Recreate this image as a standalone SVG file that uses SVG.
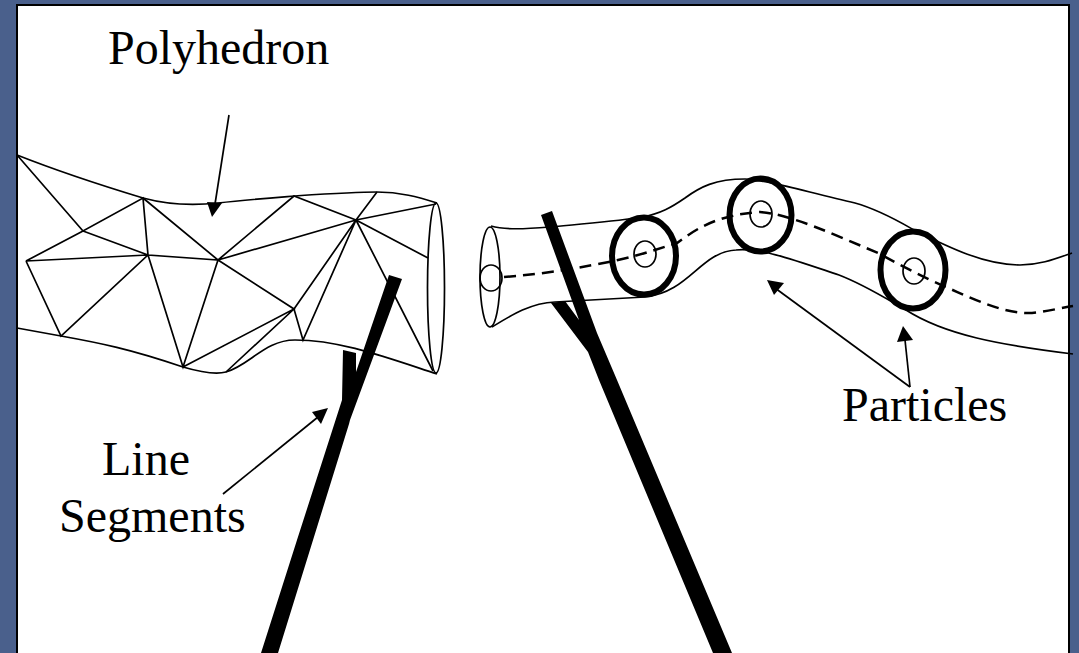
<svg xmlns="http://www.w3.org/2000/svg" width="1079" height="653" viewBox="0 0 1079 653">
<style>
.thin{fill:none;stroke:#000;stroke-width:1.7}
.mesh{fill:none;stroke:#000;stroke-width:1.7}
.ring{fill:none;stroke:#000;stroke-width:6}
.lbl{font-family:"Liberation Serif","Times New Roman",serif;font-size:48px;fill:#000}
</style>
<rect width="1079" height="653" fill="#4a608c"/>
<rect x="17" y="5" width="1052" height="660" fill="#fff" stroke="#000" stroke-width="2"/>
<g id="polyhedron">
<path class="thin" d="M17 155C60 172 110 188 143 198C165 204 190 206 218 203C245 200 270 198 294 196C325 194 355 192 377 192C400 192 418 197 437 203"/>
<path class="thin" d="M17 328L61 336C100 343 130 349 183 367C200 372 215 375 226 372C250 365 265 340 295 340C340 340 385 357 437 374"/>
<ellipse class="thin" cx="436" cy="288" rx="8.5" ry="85"/>
<path class="mesh" d="M17 155L83 231L143 198L148 255L218 260L143 198M83 231L148 255L26 261L83 231M26 261L61 336L148 255L183 367L218 260L294 196L356 220L377 192M218 260L356 220L436 204M218 260L294 309L183 367M294 309L356 220L303 340L294 309L226 372M356 220L428 258M356 220L433 371"/>
</g>
<g id="particles-tube">
<ellipse class="thin" cx="490" cy="277" rx="10" ry="50"/>
<ellipse class="thin" cx="491" cy="278" rx="11" ry="13"/>
<path class="thin" d="M491 226C505 230 525 229 550 227C590 223 620 221 642 217C660 214 672 207 685 198C700 187 715 179 745 179C765 179 810 193 855 203C880 210 900 222 914 230C950 248 985 265 1020 265C1040 265 1055 259 1072 253"/>
<path class="thin" d="M492 327C510 316 530 303 555 302L645 297C690 292 700 252 736 250C760 247 800 262 839 275C865 285 885 298 906 310C945 335 1000 345 1073 354"/>
<path class="thin" stroke-dasharray="12 7" style="stroke-width:2.5" d="M504 277C545 274 585 267 618 260C640 255 655 250 677 243C695 230 715 215 760 212C790 214 835 235 878 253C900 265 925 278 946 287C975 300 1005 314 1032 313C1045 312 1060 308 1073 306"/>
<ellipse class="ring" cx="644" cy="256" rx="32" ry="38.5"/>
<ellipse class="thin" cx="645" cy="254" rx="11" ry="13"/>
<ellipse class="ring" cx="760.5" cy="215" rx="31" ry="36.5"/>
<ellipse class="thin" cx="761" cy="214" rx="11" ry="13"/>
<ellipse class="ring" cx="913" cy="270" rx="32.5" ry="38.5"/>
<ellipse class="thin" cx="914" cy="271" rx="11" ry="13"/>
</g>
<g id="line-segments">
<polygon points="389,275 402,279 350,420 349,424 278,653 261,653 297,540 342,400 343,350 356,353 356,372"/>
<polygon points="541,215 552,211 597,333 617,380 732,653 713,653 599,380 588,352 551,303 565,301 579,320"/>
</g>
<g id="connectors">
<path class="thin" d="M229 115L215 204"/><path d="M207 202L222 203L212 217Z"/>
<path class="thin" d="M223 494L318 417"/><path d="M328 408L321 424L312 412Z"/>
<path class="thin" d="M910 387L775 288"/><path d="M767 280L784 283L774 295Z"/>
<path class="thin" d="M910 387L905 340"/><path d="M903 326L913 340L897 342Z"/>
</g>
<g id="labels">
<text class="lbl" x="108" y="64">Polyhedron</text>
<text class="lbl" x="102" y="475">Line</text>
<text class="lbl" x="59" y="532">Segments</text>
<text class="lbl" x="842" y="421">Particles</text>
</g>
</svg>
